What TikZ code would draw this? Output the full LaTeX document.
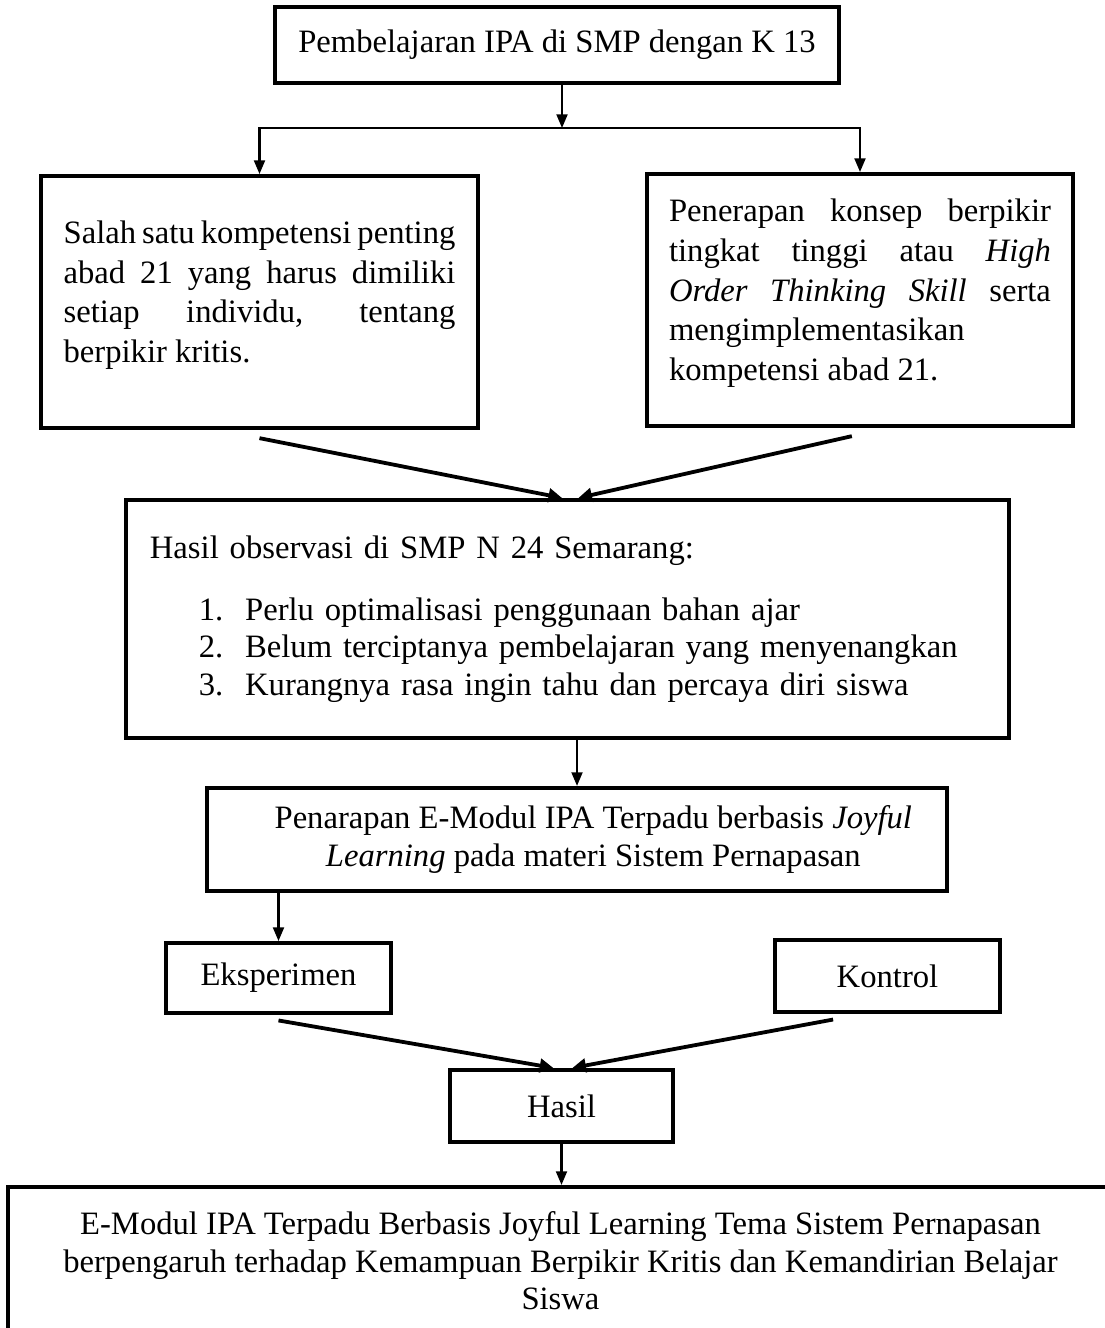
\documentclass[tikz,border=0pt]{standalone}
\usepackage{fontspec}
\setmainfont{Liberation Serif}
\usetikzlibrary{arrows.meta}
\tikzset{
  box/.style={draw, line width=1.5pt, inner sep=0pt, font=\fontsize{12}{13.8}\selectfont},
  sidebox/.style={box, font=\fontsize{12}{14.6}\selectfont, align=justify},
  arr/.style={line width=0.8pt, -{Triangle[length=5pt,width=4pt]}},
  fatarr/.style={line width=1.4pt, -{Triangle[length=5pt,width=5pt]}}
}
\begin{document}
\begin{tikzpicture}[x=0.3676pt,y=-0.3676pt]
        \useasboundingbox (0,0) rectangle (1105,1328);
        \clip (0,0) rectangle (1105,1328);
        \node[box, minimum width=207.3pt, minimum height=27.9pt] (K13) at (557,45) {Pembelajaran IPA di SMP dengan K 13};
        \node[sidebox, minimum width=160.6pt, minimum height=92.6pt, text width=144pt] (Komp) at (259.5,302)
            {Salah satu \mbox{kompetensi} \mbox{penting}\linebreak abad 21 yang harus dimiliki\linebreak setiap individu, tentang\linebreak berpikir kritis.\par\nointerlineskip\vspace{5pt}\null};
        \node[sidebox, minimum width=156.6pt, minimum height=92.6pt, text width=140.4pt] (Hots) at (860,300)
            {Penerapan konsep berpikir\linebreak tingkat tinggi atau \textit{High}\linebreak \textit{Order Thinking Skill} serta\linebreak mengimplementasikan\newline kompetensi abad 21.\par\nointerlineskip\vspace{5pt}\null};
        \node[box, minimum width=324.6pt, minimum height=87.5pt, text width=307pt, align=left] (Obs) at (567.5,619)
            {Hasil observasi di SMP N 24 Semarang:\\[9pt]
             \hspace*{18pt}\makebox[17pt][l]{1.}Perlu optimalisasi penggunaan bahan ajar\\
             \hspace*{18pt}\makebox[17pt][l]{2.}Belum terciptanya pembelajaran yang menyenangkan\\
             \hspace*{18pt}\makebox[17pt][l]{3.}Kurangnya rasa ingin tahu dan percaya diri siswa};
        \node[box, minimum width=272pt, minimum height=37.9pt, align=center] (Emod) at (577,839.5)
            {\hspace*{12pt}Penarapan E-Modul IPA Terpadu berbasis \textit{Joyful}\\\hspace*{12pt}\textit{Learning} pada materi Sistem Pernapasan};
        \node[box, minimum width=82.7pt, minimum height=25.7pt] (Eks) at (278.5,978) {Eksperimen};
        \node[box, minimum width=82.7pt, minimum height=26.5pt] (Kon) at (887.5,976) {Kontrol};
        \node[box, minimum width=82pt, minimum height=26.5pt] (Hasil) at (561.5,1106) {Hasil};
        \node[box, minimum width=406pt, minimum height=54.4pt, align=center] (Simp) at (560.5,1261)
            {E-Modul IPA Terpadu Berbasis Joyful Learning Tema Sistem Pernapasan\\
             berpengaruh terhadap Kemampuan Berpikir Kritis dan Kemandirian Belajar\\
             Siswa};
        % connectors
        \coordinate (split) at (562,128);
        \draw[arr] (K13.south -| split) -- (split);
        \draw[arr] (split) -| (Komp.north);
        \draw[arr] (split) -| (Hots.north);
        \draw[fatarr] ([yshift=-3]Komp.south) -- ([xshift=-2]Obs.north);
        \draw[fatarr] ([xshift=-3,yshift=-3]Hots.south) -- ([xshift=4]Obs.north);
        \draw[arr] (Emod.north |- Obs.south) -- (Emod.north);
        \draw[arr] (Eks.north |- Emod.south) -- (Eks.north);
        \draw[fatarr] ([yshift=-2]Eks.south) -- ([xshift=-3]Hasil.north);
        \draw[fatarr] ([xshift=-20,yshift=-2]Kon.south) -- ([xshift=4]Hasil.north);
        \draw[arr] (Hasil.south) -- (Simp.north -| Hasil.south);
    \end{tikzpicture}
\end{document}
